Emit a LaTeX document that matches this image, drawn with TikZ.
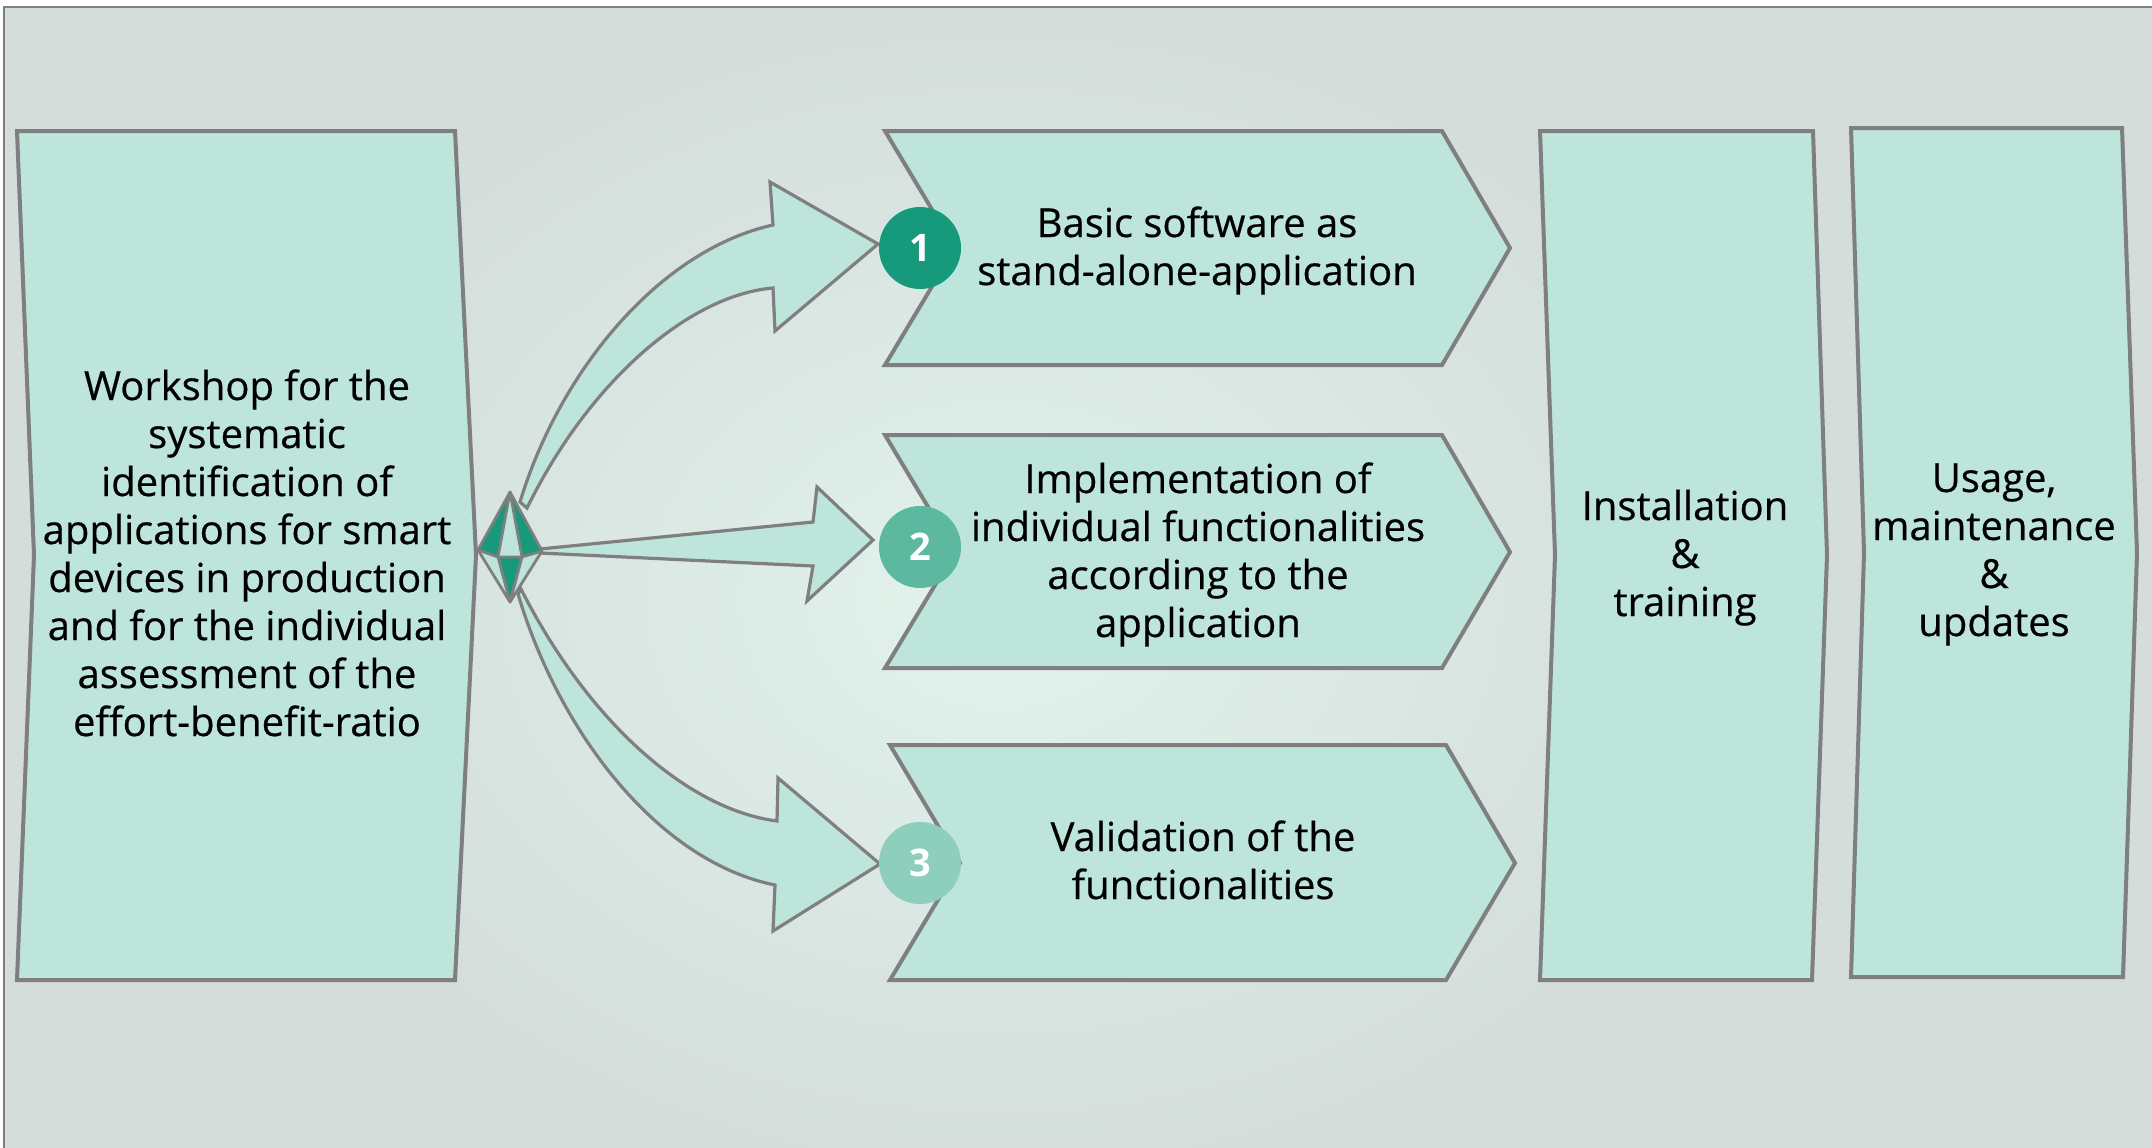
\documentclass[tikz,border=0pt]{standalone}
\usepackage{fontspec}
\setmainfont{Open Sans}
\newfontfamily\lblfont{Open Sans}[FakeBold=0.5]
\definecolor{mint}{HTML}{BEE5DB}
\definecolor{edge}{HTML}{7F7F7F}
\definecolor{bgbase}{HTML}{D4DDDA}
\definecolor{glow}{HTML}{E2F3EC}
\definecolor{cone}{HTML}{169A7B}
\definecolor{ctwo}{HTML}{5CB9A0}
\definecolor{cthree}{HTML}{8DCEBD}
\begin{document}
\begin{tikzpicture}[x=1pt,y=-1pt,
  panel/.style={fill=mint,draw=edge,line width=4pt,line join=miter},
  blockarrow/.style={fill=mint,draw=edge,line width=3.2pt,line join=miter},
  gemline/.style={draw=edge,line width=2.8pt,line join=round},
  lbl/.style={align=center,anchor=base,font=\lblfont\fontsize{40}{48}\selectfont,text=black,inner sep=0pt},
  num/.style={circle,minimum size=82pt,inner sep=0pt,text=white,font=\fontsize{38}{40}\selectfont\bfseries}]

\useasboundingbox (0,0) rectangle (2152,1148);
\fill[white] (0,0) rectangle (2152,1148);
\fill[bgbase] (4,7) rectangle (2152,1148);
\shade[inner color=glow, outer color=bgbase] (1000,600) ellipse (760 and 580);
\draw[edge,line width=1.5pt] (4,1148) -- (4,7) -- (2152,7);

% workshop panel
\draw[panel] (17,131) -- (455,131) -- (476,555) -- (455,980) -- (17,980) -- (34,555) -- cycle;
\node[lbl] (workshop) at (247,736) {Workshop for the\\systematic\\identification of\\applications for smart\\devices in production\\and for the individual\\assessment of the\\effort-benefit-ratio};

% block arrows
\draw[blockarrow] (520,502) .. controls (560,370) and (660,250) .. (773,225)
  -- (770,182) -- (878,244) -- (775,331) -- (773,288)
  .. controls (690,295) and (590,380) .. (527,508) -- cycle;
\draw[blockarrow] (540,549) -- (813,522) -- (817,487) -- (873,540) -- (807,601) -- (813,566) -- (540,553) -- cycle;
\draw[blockarrow] (518,594) .. controls (560,735) and (660,862) .. (775,885)
  -- (773,931) -- (880,864) -- (778,778) -- (777,821)
  .. controls (690,810) and (590,725) .. (521,589) -- cycle;

% gem hub
\coordinate (gt) at (510,492);
\coordinate (gl) at (478,550);
\coordinate (gr) at (542,551);
\coordinate (gb) at (510,602);
\coordinate (gil) at (498,557);
\coordinate (gir) at (522,557);
\fill[mint] (gt) -- (gr) -- (gb) -- (gl) -- cycle;
\fill[cone] (gt) -- (gl) -- (gil) -- cycle;
\fill[cone] (gt) -- (gir) -- (gr) -- cycle;
\fill[cone] (gil) -- (gir) -- (gb) -- cycle;
\draw[gemline] (gt) -- (gr) -- (gb) -- (gl) -- cycle;
\draw[gemline] (gl) -- (gil) -- (gir) -- (gr);
\draw[gemline] (gt) -- (gil) -- (gb) -- (gir) -- cycle;

% chevrons
\draw[panel] (885,131) -- (1442,131) -- (1510,248) -- (1442,365) -- (885,365) -- (955,248) -- cycle;
\draw[panel] (885,435) -- (1442,435) -- (1510,552) -- (1442,668) -- (885,668) -- (955,552) -- cycle;
\draw[panel] (890,745) -- (1446,745) -- (1515,863) -- (1446,980) -- (890,980) -- (960,863) -- cycle;
\node[lbl] (basic) at (1197,285) {Basic software as\\stand-alone-application};
\node[lbl] (impl) at (1198,637) {Implementation of\\individual functionalities\\according to the\\application};
\node[lbl] (valid) at (1203,899) {Validation of the\\functionalities};

% numbered circles
\node[num,fill=cone] (c1) at (920,248) {1};
\node[num,fill=ctwo] (c2) at (920,547) {2};
\node[num,fill=cthree] (c3) at (920,863) {3};

% right panels
\draw[panel] (1540,131) -- (1813,131) -- (1827,555) -- (1812,980) -- (1540,980) -- (1555,555) -- cycle;
\draw[panel] (1851,128) -- (2122,128) -- (2137,553) -- (2123,977) -- (1851,977) -- (1864,553) -- cycle;
\node[lbl] (install) at (1685,616) {Installation\\\&\\training};
\node[lbl] (usage) at (1994,636) {Usage,\\maintenance\\\&\\updates};
\end{tikzpicture}
\end{document}
